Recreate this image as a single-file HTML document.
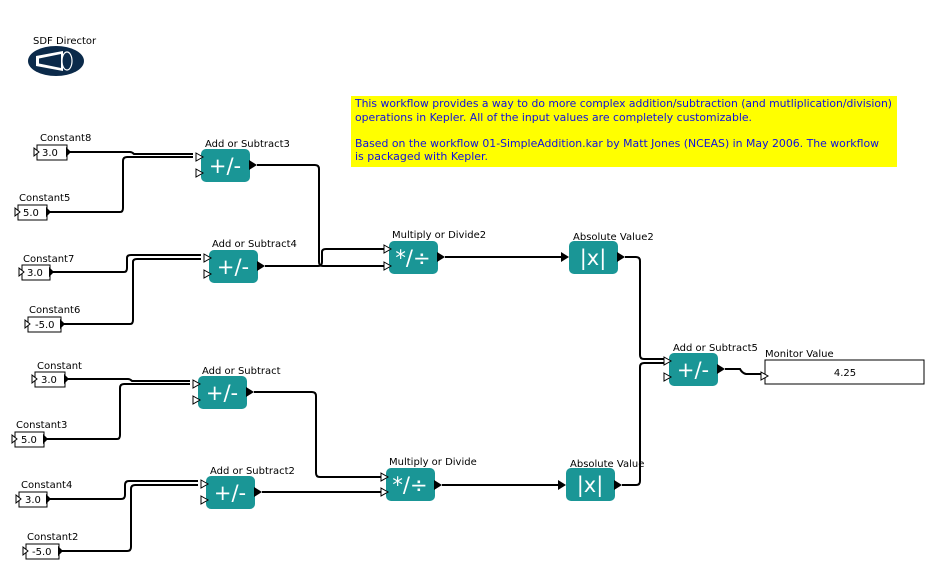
<!DOCTYPE html>
<html><head><meta charset="utf-8"><style>
html,body{margin:0;padding:0;background:#fff;}
svg{display:block;font-family:"DejaVu Sans","Liberation Sans",sans-serif;}
.l{font-size:10px;fill:#000;}
.s{font-size:21px;fill:#fff;text-anchor:middle;}
.w{fill:none;stroke:#000;stroke-width:2;}
.b{fill:#1a9696;}
.i{fill:#fff;stroke:#000;stroke-width:1;}
.o{fill:#000;}
.c{fill:#fff;stroke:#000;stroke-width:1;}
.v{font-size:10px;fill:#000;}
.n{font-size:11px;fill:#1010e0;}
</style></head><body>
<svg width="940" height="588" viewBox="0 0 940 588">
<!-- director -->
<text class="l" x="33" y="44">SDF Director</text>
<ellipse cx="56" cy="61" rx="28" ry="15" fill="#0b2a4a"/>
<polygon points="36,56 63,51 63,71 36,66" fill="#fff"/>
<polygon points="39,58.5 61,54 61,68 39,63.5" fill="#0b2a4a"/>
<ellipse cx="67" cy="61" rx="5" ry="9" fill="#0b2a4a" stroke="#fff" stroke-width="1.2"/>
<!-- note -->
<rect x="351" y="96" width="546" height="71" fill="#ffff00"/>
<text class="n" x="355" y="107" textLength="537" lengthAdjust="spacingAndGlyphs">This workflow provides a way to do more complex addition/subtraction (and mutliplication/division)</text>
<text class="n" x="355" y="121" textLength="397" lengthAdjust="spacingAndGlyphs">operations in Kepler. All of the input values are completely customizable.</text>
<text class="n" x="355" y="147" textLength="524" lengthAdjust="spacingAndGlyphs">Based on the workflow 01-SimpleAddition.kar by Matt Jones (NCEAS) in May 2006. The workflow</text>
<text class="n" x="355" y="160" textLength="133" lengthAdjust="spacingAndGlyphs">is packaged with Kepler.</text>

<!-- wires -->
<path class="w" d="M67,152 H130 Q132,152 134,154 H193"/>
<path class="w" d="M47,212 H120 Q123,212 123,208 V161 Q123,157 127,157 H193"/>
<path class="w" d="M50,272 H124 Q127,272 127,268 V258 Q127,255 131,255 H201"/>
<path class="w" d="M61,324 H130 Q133,324 133,320 V262 Q133,259 137,259 H201"/>
<path class="w" d="M257,165 H315 Q319,165 319,169 V262 Q319,266 323,266 H385"/>
<path class="w" d="M265,266 H318 Q322,266 322,262 V252 Q322,249 326,249 H385"/>
<path class="w" d="M445,257 H562"/>
<path class="w" d="M625,257 H636 Q640,257 640,261 V355 Q640,359 644,359 H665"/>
<path class="w" d="M622,485 H636 Q640,485 640,481 V367 Q640,363 644,363 H665"/>
<path class="w" d="M725,369 H740 Q742,373 746,374 H761"/>

<path class="w" d="M65,379 H128 Q130,379 132,381 H190"/>
<path class="w" d="M44,439 H117 Q120,439 120,435 V388 Q120,384 124,384 H190"/>
<path class="w" d="M47,499 H121 Q125,499 125,495 V485 Q125,481 129,481 H198"/>
<path class="w" d="M59,551 H127 Q131,551 131,547 V489 Q131,485 135,485 H198"/>
<path class="w" d="M254,392 H312 Q316,392 316,396 V473 Q316,477 320,477 H382"/>
<path class="w" d="M262,492 H382"/>
<path class="w" d="M442,485 H559"/>

<!-- constants -->
<g>
<text class="l" x="40" y="141">Constant8</text><rect class="c" x="37" y="145" width="30" height="15"/><text class="v" x="42" y="156">3.0</text>
<polygon class="i" points="34,148 39,152 34,156"/><polygon class="o" points="66,147 71,152 66,157"/>
<text class="l" x="19" y="201">Constant5</text><rect class="c" x="18" y="205" width="29" height="15"/><text class="v" x="23" y="216">5.0</text>
<polygon class="i" points="15,208 20,212 15,216"/><polygon class="o" points="46,207 51,212 46,217"/>
<text class="l" x="23" y="262">Constant7</text><rect class="c" x="22" y="265" width="28" height="15"/><text class="v" x="27" y="276">3.0</text>
<polygon class="i" points="19,268 24,272 19,276"/><polygon class="o" points="49,267 54,272 49,277"/>
<text class="l" x="29" y="313">Constant6</text><rect class="c" x="28" y="317" width="33" height="15"/><text class="v" x="35" y="328">-5.0</text>
<polygon class="i" points="25,320 30,324 25,328"/><polygon class="o" points="60,319 65,324 60,329"/>
<text class="l" x="37" y="369">Constant</text><rect class="c" x="35" y="372" width="30" height="15"/><text class="v" x="41" y="383">3.0</text>
<polygon class="i" points="32,375 37,379 32,383"/><polygon class="o" points="64,374 69,379 64,384"/>
<text class="l" x="16" y="428">Constant3</text><rect class="c" x="15" y="432" width="29" height="15"/><text class="v" x="21" y="443">5.0</text>
<polygon class="i" points="12,435 17,439 12,443"/><polygon class="o" points="43,434 48,439 43,444"/>
<text class="l" x="21" y="488">Constant4</text><rect class="c" x="19" y="492" width="28" height="15"/><text class="v" x="25" y="503">3.0</text>
<polygon class="i" points="16,495 21,499 16,503"/><polygon class="o" points="46,494 51,499 46,504"/>
<text class="l" x="27" y="540">Constant2</text><rect class="c" x="26" y="544" width="33" height="15"/><text class="v" x="32" y="555">-5.0</text>
<polygon class="i" points="23,547 28,551 23,555"/><polygon class="o" points="58,546 63,551 58,556"/>
</g>

<!-- actors -->
<g>
<text class="l" x="205" y="147">Add or Subtract3</text><rect class="b" x="201" y="149" width="49" height="33" rx="5"/><text class="s" x="225" y="173">+/-</text>
<polygon class="i" points="196,153 203,157 196,161"/><polygon class="i" points="196,169 203,173 196,177"/><polygon class="o" points="249,160 257,165 249,170"/>

<text class="l" x="212" y="247">Add or Subtract4</text><rect class="b" x="209" y="250" width="49" height="33" rx="5"/><text class="s" x="233" y="274">+/-</text>
<polygon class="i" points="204,254 211,258 204,262"/><polygon class="i" points="204,270 211,274 204,278"/><polygon class="o" points="257,261 265,266 257,271"/>

<text class="l" x="392" y="238">Multiply or Divide2</text><rect class="b" x="389" y="241" width="49" height="33" rx="5"/><text class="s" x="413" y="265">*/÷</text>
<polygon class="i" points="384,245 391,249 384,253"/><polygon class="i" points="384,262 391,266 384,270"/><polygon class="o" points="437,252 445,257 437,262"/>

<text class="l" x="573" y="240">Absolute Value2</text><rect class="b" x="569" y="241" width="49" height="33" rx="5"/><text class="s" x="593" y="265">|x|</text>
<polygon class="o" points="561,252 569,257 561,262"/><polygon class="o" points="617,252 625,257 617,262"/>

<text class="l" x="673" y="351">Add or Subtract5</text><rect class="b" x="669" y="353" width="49" height="33" rx="5"/><text class="s" x="693" y="377">+/-</text>
<polygon class="i" points="664,357 671,361 664,365"/><polygon class="i" points="664,373 671,377 664,381"/><polygon class="o" points="717,364 725,369 717,374"/>

<text class="l" x="202" y="374">Add or Subtract</text><rect class="b" x="198" y="376" width="49" height="33" rx="5"/><text class="s" x="222" y="400">+/-</text>
<polygon class="i" points="193,380 200,384 193,388"/><polygon class="i" points="193,396 200,400 193,404"/><polygon class="o" points="246,387 254,392 246,397"/>

<text class="l" x="210" y="474">Add or Subtract2</text><rect class="b" x="206" y="476" width="49" height="33" rx="5"/><text class="s" x="230" y="500">+/-</text>
<polygon class="i" points="201,480 208,484 201,488"/><polygon class="i" points="201,496 208,500 201,504"/><polygon class="o" points="254,487 262,492 254,497"/>

<text class="l" x="389" y="465">Multiply or Divide</text><rect class="b" x="386" y="468" width="49" height="33" rx="5"/><text class="s" x="410" y="492">*/÷</text>
<polygon class="i" points="381,473 388,477 381,481"/><polygon class="i" points="381,488 388,492 381,496"/><polygon class="o" points="434,480 442,485 434,490"/>

<text class="l" x="570" y="467">Absolute Value</text><rect class="b" x="566" y="468" width="49" height="33" rx="5"/><text class="s" x="590" y="492">|x|</text>
<polygon class="o" points="558,480 566,485 558,490"/><polygon class="o" points="614,480 622,485 614,490"/>

<text class="l" x="765" y="357">Monitor Value</text><rect class="c" x="765" y="360" width="159" height="24"/><text class="v" x="845" y="376" text-anchor="middle">4.25</text>
<polygon class="i" points="761,372 768,376 761,380"/>
</g>
</svg>
</body></html>
